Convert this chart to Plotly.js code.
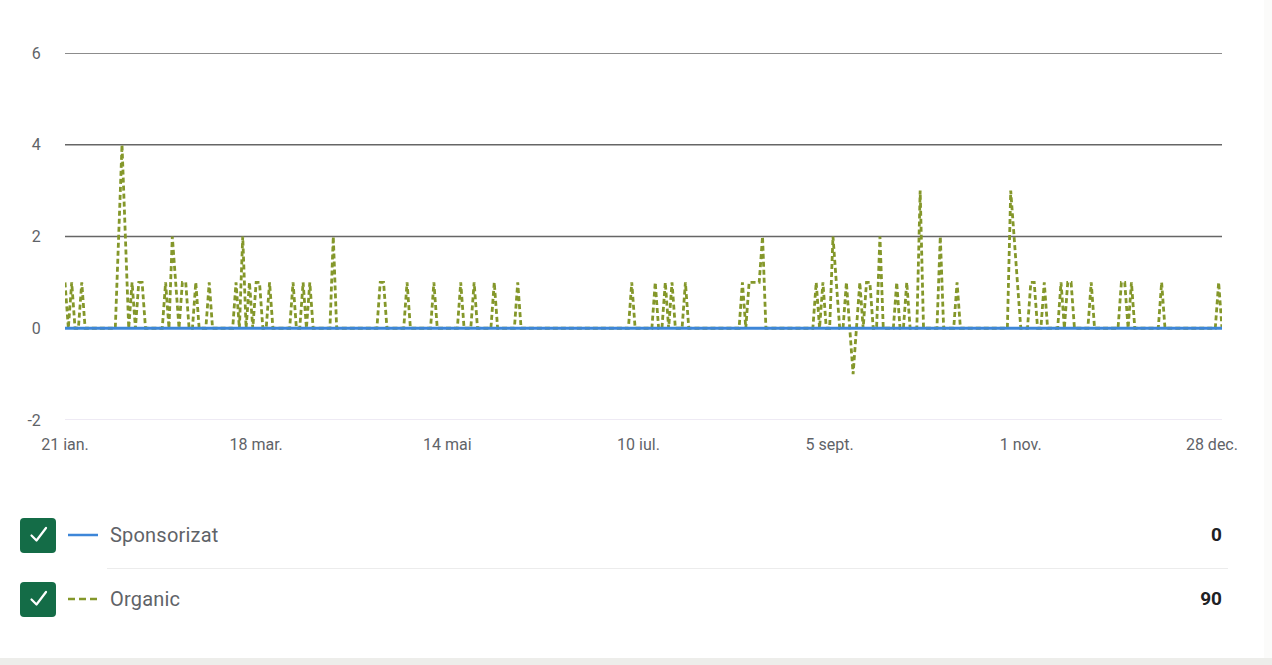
<!DOCTYPE html>
<html>
<head>
<meta charset="utf-8">
<script src="https://cdn.plot.ly/plotly-3.0.1.min.js"></script>
<style>
  html, body { margin:0; padding:0; background:#ffffff; width:1272px; height:665px; overflow:hidden;
    font-family: Roboto, "Noto Sans", "DejaVu Sans", sans-serif; }
  #chart { position:absolute; left:0; top:0; width:1272px; height:470px; }
  .cb { position:absolute; left:20px; width:36px; height:35px; }
  .cb svg, .sw svg { display:block; }
  .sw { position:absolute; left:68px; width:32px; height:4px; }
  .lbl { position:absolute; left:110px; font-size:20px; color:#5f6368; line-height:24px; letter-spacing:0.2px; }
  .val { position:absolute; right:50px; font-size:19px; font-weight:700; color:#202124; line-height:24px; }
  #sep { position:absolute; left:107px; top:568px; width:1121px; height:1px; background:#ececec; }
  #bottom { position:absolute; left:0; top:658px; width:1272px; height:7px; background:#ededea; }
  #rightedge { position:absolute; left:1264px; top:0; width:8px; height:658px; background:#fbfbfa; }
</style>
</head>
<body>
<div id="chart"></div>
<div id="legend"></div>
<div id="sep"></div>
<div id="bottom"></div>
<div id="rightedge"></div>
<script>
// ---------------- DATA (2024, daily) ----------------
const year = 2024;
// Organic — values per day, month by month (January starts on the 21st)
const organicJan = [1,0,1,0,0,1,0,0,0,0,0];
const organicFeb = [0,0,0,0,0,2,4,2,0,1, 0,1,1,0,0,0,0,0,0,1, 0,2,1,0,1,1,0,0,1];
const organicMar = [0,0,0,1,0,0,0,0,0,0, 0,1,0,2,0,1,0,1,1,0, 0,1,0,0,0,0,0,0,1,0, 0];
const organicApr = [1,0,1,0,0,0,0,0,0,2, 0,0,0,0,0,0,0,0,0,0, 0,0,0,1,1,0,0,0,0,0];
const organicMay = [0,1,0,0,0,0,0,0,0,1, 0,0,0,0,0,0,0,1,0,0, 0,1,0,0,0,0,0,1,0,0, 0];
const organicJun = [0,0,0,1,0,0,0,0,0,0, 0,0,0,0,0,0,0,0,0,0, 0,0,0,0,0,0,0,0,0,0];
const organicJul = [0,0,0,0,0,0,0,1,0,0, 0,0,0,0,1,0,0,1,0,1, 0,0,0,1,0,0,0,0,0,0, 0];
const organicAug = [0,0,0,0,0,0,0,0,0,1, 0,1,1,1,1,2,0,0,0,0, 0,0,0,0,0,0,0,0,0,0, 0];
const organicSep = [1,0,1,0,0,2,1,0,0,1, 0,-1,0,1,0,1,1,0,0,2, 0,0,0,0,1,0,0,1,0,0];
const organicOct = [0,3,0,0,0,0,0,2,0,0, 0,0,1,0,0,0,0,0,0,0, 0,0,0,0,0,0,0,0,3,2, 1];
const organicNov = [0,0,0,1,1,0,0,1,0,0, 0,0,1,0,1,1,0,0,0,0, 0,1,0,0,0,0,0,0,0,0];
const organicDec = [1,1,0,1,0,0,0,0,0,0, 0,0,1,0,0,0,0,0,0,0, 0,0,0,0,0,0,0,0,0,1, 0];

// Sponsorizat — values per day, month by month
const sponsoredJan = [0,0,0,0,0,0,0,0,0,0,0];
const sponsoredFeb = [0,0,0,0,0,0,0,0,0,0, 0,0,0,0,0,0,0,0,0,0, 0,0,0,0,0,0,0,0,0];
const sponsoredMar = [0,0,0,0,0,0,0,0,0,0, 0,0,0,0,0,0,0,0,0,0, 0,0,0,0,0,0,0,0,0,0, 0];
const sponsoredApr = [0,0,0,0,0,0,0,0,0,0, 0,0,0,0,0,0,0,0,0,0, 0,0,0,0,0,0,0,0,0,0];
const sponsoredMay = [0,0,0,0,0,0,0,0,0,0, 0,0,0,0,0,0,0,0,0,0, 0,0,0,0,0,0,0,0,0,0, 0];
const sponsoredJun = [0,0,0,0,0,0,0,0,0,0, 0,0,0,0,0,0,0,0,0,0, 0,0,0,0,0,0,0,0,0,0];
const sponsoredJul = [0,0,0,0,0,0,0,0,0,0, 0,0,0,0,0,0,0,0,0,0, 0,0,0,0,0,0,0,0,0,0, 0];
const sponsoredAug = [0,0,0,0,0,0,0,0,0,0, 0,0,0,0,0,0,0,0,0,0, 0,0,0,0,0,0,0,0,0,0, 0];
const sponsoredSep = [0,0,0,0,0,0,0,0,0,0, 0,0,0,0,0,0,0,0,0,0, 0,0,0,0,0,0,0,0,0,0];
const sponsoredOct = [0,0,0,0,0,0,0,0,0,0, 0,0,0,0,0,0,0,0,0,0, 0,0,0,0,0,0,0,0,0,0, 0];
const sponsoredNov = [0,0,0,0,0,0,0,0,0,0, 0,0,0,0,0,0,0,0,0,0, 0,0,0,0,0,0,0,0,0,0];
const sponsoredDec = [0,0,0,0,0,0,0,0,0,0, 0,0,0,0,0,0,0,0,0,0, 0,0,0,0,0,0,0,0,0,0, 0];

// Legend labels and totals
const seriesNames = ['Sponsorizat', 'Organic'];
const seriesTotals = ['0', '90'];

// Axis ticks
const xTickDates  = ['2024-01-21','2024-03-18','2024-05-14','2024-07-10','2024-09-05','2024-11-01','2024-12-28'];
const xTickLabels = ['21 ian.','18 mar.','14 mai','10 iul.','5 sept.','1 nov.','28 dec.'];
const yTicks = [-2, 0, 2, 4, 6];
const xRange = ['2024-01-21', '2024-12-31'];
const yRange = [-2, 6];

// ---------------- BUILD ----------------
const organicMonths = [organicJan, organicFeb, organicMar, organicApr, organicMay, organicJun,
                       organicJul, organicAug, organicSep, organicOct, organicNov, organicDec];
const sponsoredMonths = [sponsoredJan, sponsoredFeb, sponsoredMar, sponsoredApr, sponsoredMay, sponsoredJun,
                         sponsoredJul, sponsoredAug, sponsoredSep, sponsoredOct, sponsoredNov, sponsoredDec];
const firstDay = [21,1,1,1,1,1,1,1,1,1,1,1];
const pad = n => (n < 10 ? '0' : '') + n;

function buildSeries(months) {
  const x = [], y = [];
  months.forEach((arr, mi) => {
    arr.forEach((v, i) => {
      x.push(year + '-' + pad(mi + 1) + '-' + pad(firstDay[mi] + i));
      y.push(v);
    });
  });
  return {x, y};
}
const org = buildSeries(organicMonths);
const spo = buildSeries(sponsoredMonths);

const organicColor = '#84972a';
const sponsoredColor = '#3d86d8';

const traces = [
  { type:'scatter', mode:'lines', name: seriesNames[1], x: org.x, y: org.y,
    line:{ color: organicColor, width: 2.8, dash:'5px,3px' }, hoverinfo:'skip' },
  { type:'scatter', mode:'lines', name: seriesNames[0], x: spo.x, y: spo.y,
    line:{ color: sponsoredColor, width: 3 }, hoverinfo:'skip' }
];

const shapes = yTicks.map(v => ({
  type:'line', xref:'paper', yref:'y', x0:0, x1:1, y0:v, y1:v, layer:'below',
  line:{ color: v === yRange[0] ? '#ddd6ea' : '#666666', width: v === yRange[0] ? 1.2 : 1.6 }
}));

const layout = {
  width:1272, height:470,
  margin:{ l:65, r:50, t:53, b:50 },
  paper_bgcolor:'rgba(0,0,0,0)', plot_bgcolor:'rgba(0,0,0,0)',
  showlegend:false,
  font:{ family:'Roboto, "Noto Sans", sans-serif', color:'#5f6368', size:16 },
  xaxis:{ type:'date', range: xRange, tickvals: xTickDates, ticktext: xTickLabels,
    showgrid:false, zeroline:false, showline:false,
    ticks:'outside', ticklen:10, tickcolor:'rgba(0,0,0,0)',
    tickfont:{ size:16, color:'#5f6368' }, fixedrange:true },
  yaxis:{ range: yRange, tickvals: yTicks, ticktext: yTicks.map(String),
    showgrid:false, zeroline:false, showline:false,
    ticks:'outside', ticklen:20, tickcolor:'rgba(0,0,0,0)',
    tickfont:{ size:16, color:'#5f6368' }, fixedrange:true },
  shapes: shapes
};

Plotly.newPlot('chart', traces, layout, { displayModeBar:false, staticPlot:true });

// ---------------- LEGEND (HTML) ----------------
const legend = document.getElementById('legend');
const rowTops = [518, 582];
const checkSvg = '<svg width="36" height="35" viewBox="0 0 36 35"><rect x="0" y="0" width="36" height="35" rx="4" ry="4" fill="#146c47"/>' +
  '<polyline points="11.5,17.5 16.5,22.5 26,10" fill="none" stroke="#ffffff" stroke-width="2.2" stroke-linecap="round" stroke-linejoin="round"/></svg>';
seriesNames.forEach((name, i) => {
  const top = rowTops[i];
  const cb = document.createElement('div');
  cb.className = 'cb'; cb.style.top = top + 'px'; cb.innerHTML = checkSvg;
  legend.appendChild(cb);

  const sw = document.createElement('div');
  sw.className = 'sw'; sw.style.top = (top + 15) + 'px';
  if (i === 0) {
    sw.innerHTML = '<svg width="32" height="4"><line x1="0" y1="2" x2="30" y2="2" stroke="' + sponsoredColor + '" stroke-width="2.5"/></svg>';
  } else {
    sw.innerHTML = '<svg width="32" height="4"><line x1="0" y1="2" x2="32" y2="2" stroke="' + organicColor + '" stroke-width="2.5" stroke-dasharray="7,4"/></svg>';
  }
  legend.appendChild(sw);

  const lbl = document.createElement('div');
  lbl.className = 'lbl'; lbl.style.top = (top + 5) + 'px'; lbl.textContent = name;
  legend.appendChild(lbl);

  const val = document.createElement('div');
  val.className = 'val'; val.style.top = (top + 5) + 'px'; val.textContent = seriesTotals[i];
  legend.appendChild(val);
});
</script>
</body>
</html>
